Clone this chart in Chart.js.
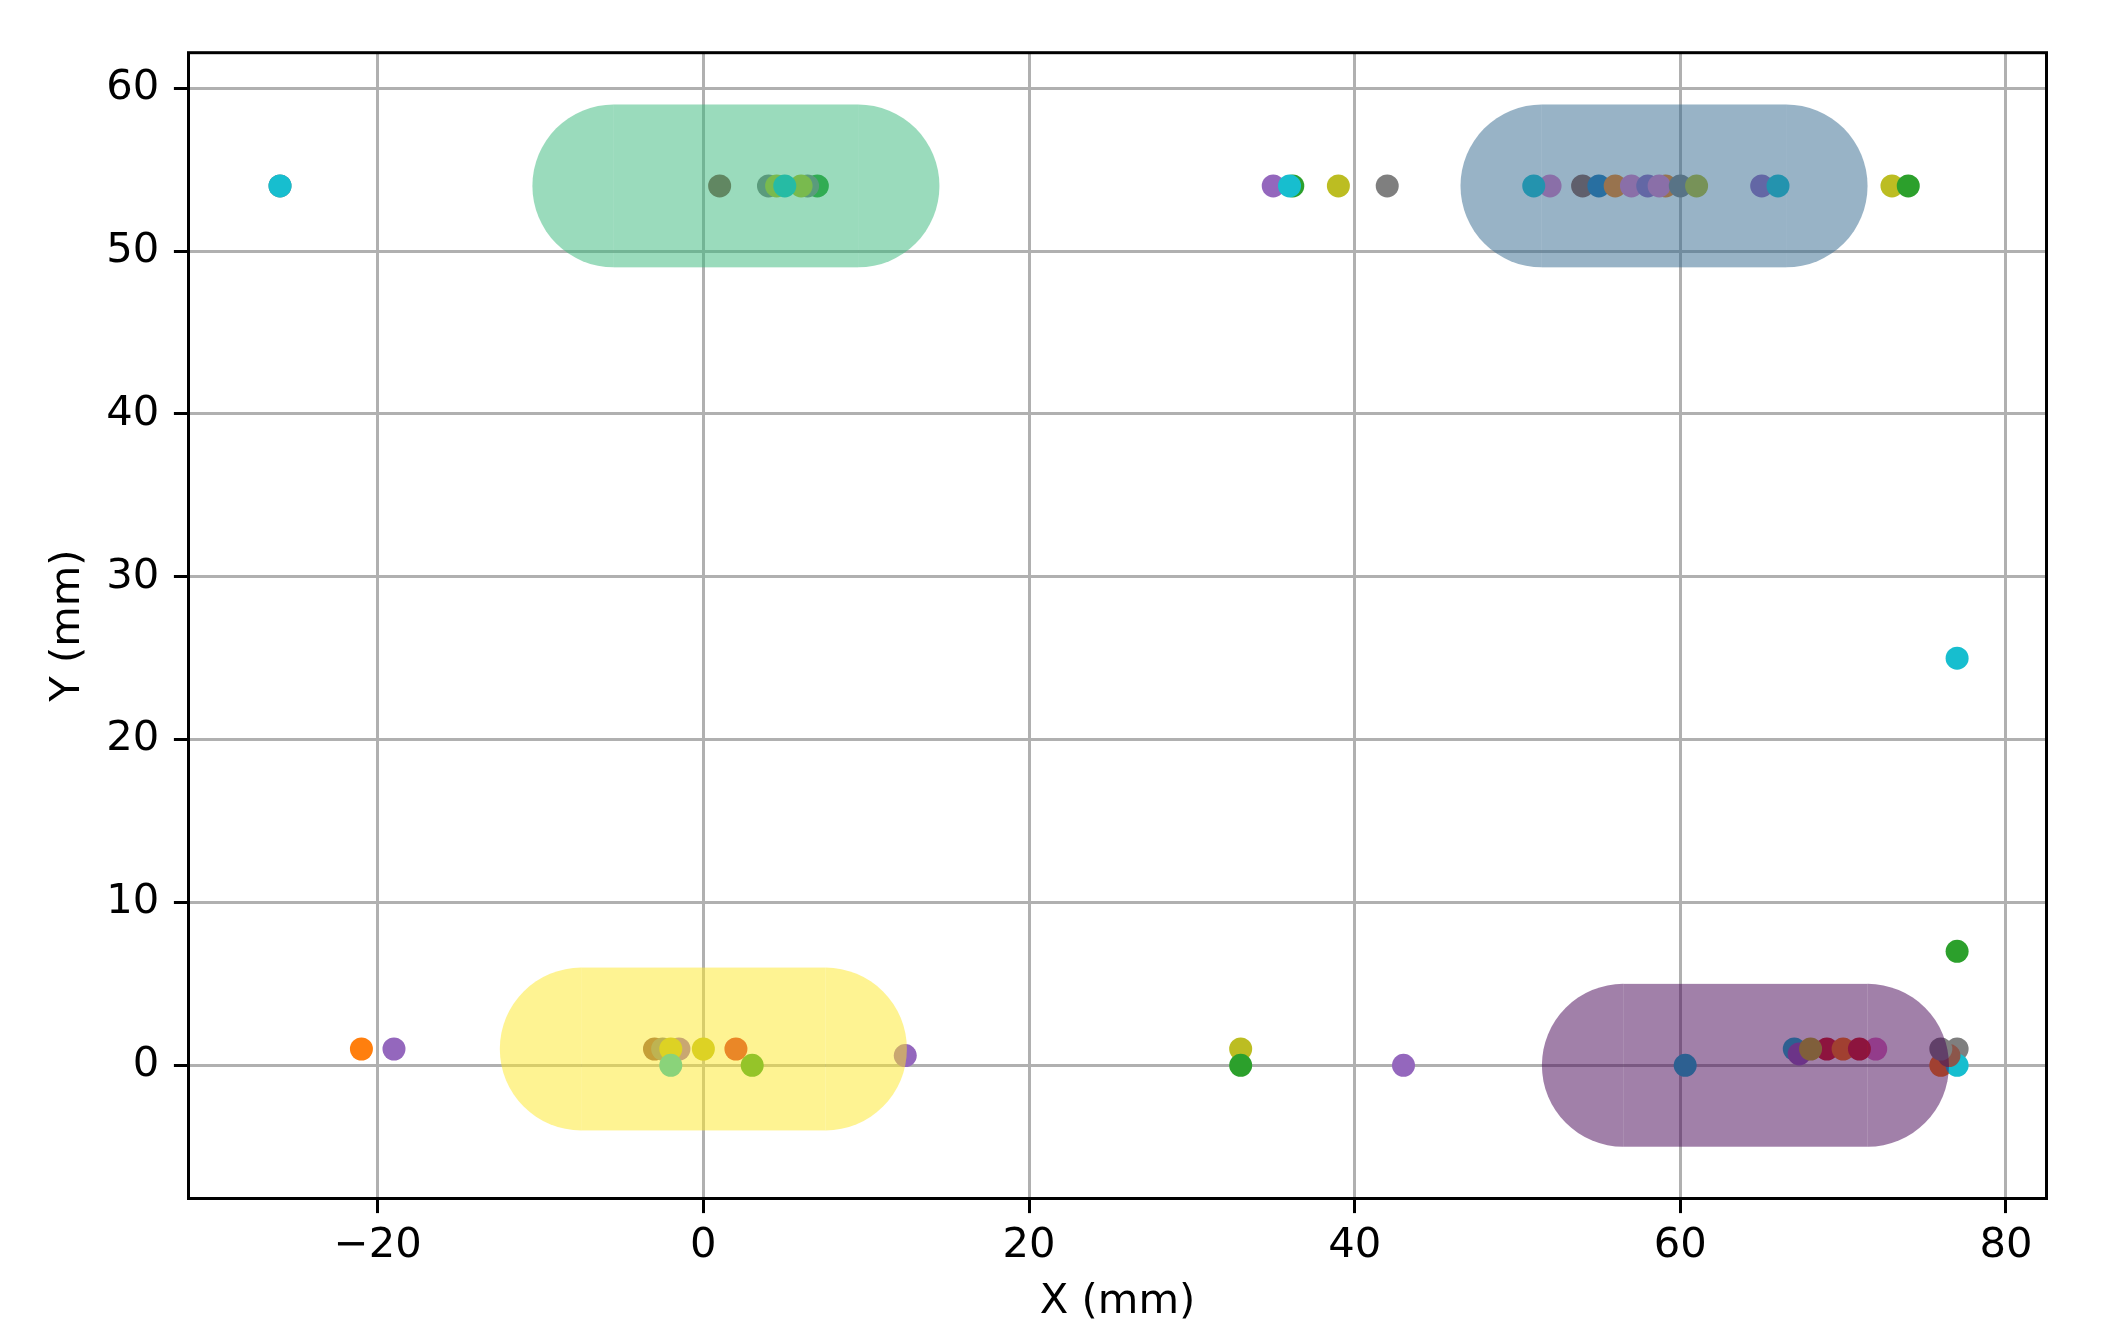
<!DOCTYPE html>
<html>
<head>
<meta charset="utf-8">
<script src="https://cdn.jsdelivr.net/npm/chart.js@4/dist/chart.umd.min.js"></script>
<style>
  html, body { margin: 0; padding: 0; background: #fff; }
  #wrap { width: 2127px; height: 1331px; }
</style>
</head>
<body>
<div id="wrap"><canvas id="plot" width="2127" height="1331"></canvas></div>
<script>
// detected positions (mm), one entry per detection
var pointX = [-26, -26, 1, 7, 6.4, 6, 4, 4.5, 5, 35, 36.2, 36, 39, 42,
  52, 51, 54, 55, 56, 57, 58, 59.1, 58.7, 60, 61, 65, 66, 73, 74,
  -21, -19, -3, -2.5, -1.5, -2, -2, 0, 2, 3, 12.4, 33, 33, 43,
  60.3, 67, 67.3, 69, 68, 70, 72, 71, 77, 76, 77, 76.5, 76, 77, 77];
var pointY = [54, 54, 54, 54, 54, 54, 54, 54, 54, 54, 54, 54, 54, 54,
  54, 54, 54, 54, 54, 54, 54, 54, 54, 54, 54, 54, 54, 54, 54,
  1, 1, 1, 1, 1, 1, 0, 1, 1, 0, 0.6, 1, 0, 0,
  0, 1, 0.7, 1, 1, 1, 1, 1, 1, 0, 0, 0.6, 1, 7, 25];
// track id of each detection (index into the tab10 cycle)
var pointTrack = [7, 9, 5, 2, 7, 8, 7, 8, 9, 4, 2, 9, 8, 7,
  6, 9, 5, 0, 1, 6, 4, 1, 6, 7, 8, 4, 9, 8, 2,
  1, 4, 5, 7, 4, 8, 9, 8, 3, 2, 4, 8, 2, 4,
  9, 9, 4, 3, 8, 1, 6, 3, 7, 1, 9, 5, 7, 2, 9];

// pads: center, half length of the straight part, end radius (mm)
var padX = [2, 59, 0, 64];
var padY = [54, 54, 1, 0];
var padHalfLength = [7.5, 7.5, 7.5, 7.5];
var padRadius = [5, 5, 5, 5];

var xTicksStep = 20;
var yTicksStep = 10;

var tab10 = ['#1f77b4', '#ff7f0e', '#2ca02c', '#d62728', '#9467bd',
  '#8c564b', '#e377c2', '#7f7f7f', '#bcbd22', '#17becf'];
var padColors = ['rgba(53,183,121,0.5)', 'rgba(49,104,142,0.5)',
  'rgba(253,231,37,0.5)', 'rgba(68,1,84,0.5)'];

var pts = pointX.map(function (x, i) { return {x: x, y: pointY[i]}; });

var pads = {
  id: 'pads',
  afterDatasetsDraw: function (chart) {
    var ctx = chart.ctx, xs = chart.scales.x, ys = chart.scales.y, a = chart.chartArea;
    ctx.save();
    ctx.beginPath();
    ctx.rect(a.left, a.top, a.right - a.left, a.bottom - a.top);
    ctx.clip();
    for (var i = 0; i < padX.length; i++) {
      var x0 = xs.getPixelForValue(padX[i] - padHalfLength[i]);
      var x1 = xs.getPixelForValue(padX[i] + padHalfLength[i]);
      var rx = x0 - xs.getPixelForValue(padX[i] - padHalfLength[i] - padRadius[i]);
      var yt = ys.getPixelForValue(padY[i] + padRadius[i]);
      var yb = ys.getPixelForValue(padY[i] - padRadius[i]);
      var yc = ys.getPixelForValue(padY[i]);
      var ry = (yb - yt) / 2;
      ctx.fillStyle = padColors[i];
      ctx.fillRect(x0, yt, x1 - x0, yb - yt);
      ctx.beginPath();
      ctx.ellipse(x0, yc, rx, ry, 0, Math.PI / 2, Math.PI * 1.5);
      ctx.closePath();
      ctx.fill();
      ctx.beginPath();
      ctx.ellipse(x1, yc, rx, ry, 0, -Math.PI / 2, Math.PI / 2);
      ctx.closePath();
      ctx.fill();
    }
    ctx.restore();
  }
};

var spines = {
  id: 'spines',
  afterDraw: function (chart) {
    var ctx = chart.ctx, a = chart.chartArea;
    ctx.save();
    ctx.strokeStyle = '#000';
    ctx.lineWidth = 3;
    ctx.strokeRect(a.left, a.top, a.right - a.left, a.bottom - a.top);
    ctx.restore();
  }
};

function minus(v) {
  return v < 0 ? '\u2212' + Math.abs(v) : '' + v;
}

var font = {family: 'DejaVu Sans', size: 41.7, lineHeight: 1.2};

new Chart(document.getElementById('plot'), {
  type: 'scatter',
  data: {
    datasets: [{
      data: pts,
      pointRadius: 11.5,
      pointHoverRadius: 11.5,
      borderWidth: 0,
      pointBackgroundColor: pointTrack.map(function (t) { return tab10[t]; })
    }]
  },
  options: {
    responsive: false,
    devicePixelRatio: 1,
    animation: false,
    events: [],
    layout: {padding: {left: 0, top: 52.7, right: 80.5, bottom: 0}},
    plugins: {legend: {display: false}, tooltip: {enabled: false}},
    scales: {
      x: {
        type: 'linear', min: -31.62, max: 82.49, z: 1,
        afterFit: function (s) { s.height = 132.5; },
        border: {display: false},
        grid: {color: '#b0b0b0', lineWidth: 3, tickColor: '#000', tickWidth: 3, tickLength: 14.6},
        ticks: {stepSize: xTicksStep, includeBounds: false, color: '#000', font: font,
          padding: 8, maxRotation: 0, callback: minus},
        title: {display: true, text: 'X (mm)', color: '#000', font: font, padding: {top: 4, bottom: 4}}
      },
      y: {
        type: 'linear', min: -8.18, max: 62.18, z: 1,
        afterFit: function (s) { s.width = 188.5; },
        border: {display: false},
        grid: {color: '#b0b0b0', lineWidth: 3, tickColor: '#000', tickWidth: 3, tickLength: 14.6},
        ticks: {stepSize: yTicksStep, includeBounds: false, color: '#000', font: font,
          padding: 14.6, callback: minus},
        title: {display: true, text: 'Y (mm)', color: '#000', font: font, padding: {top: 43, bottom: 43}}
      }
    }
  },
  plugins: [pads, spines]
});
</script>
</body>
</html>
